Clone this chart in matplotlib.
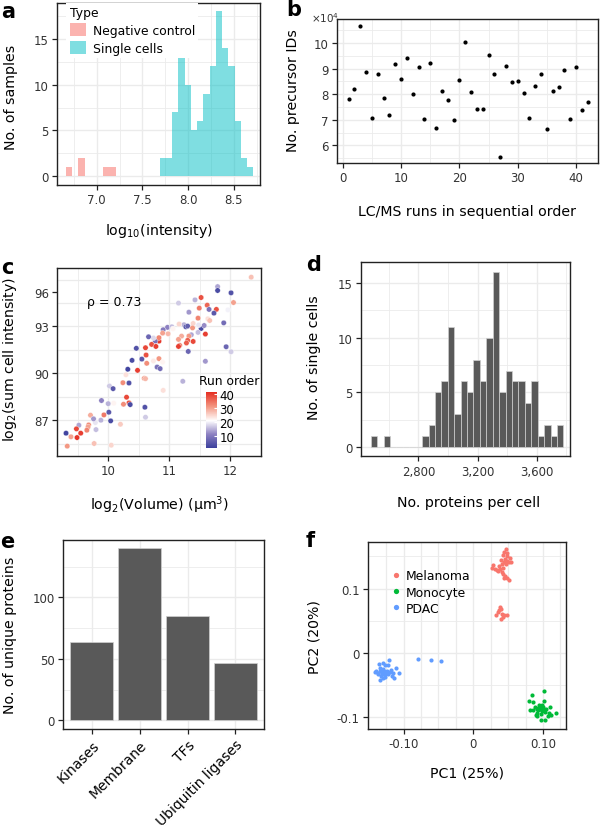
import numpy as np
import matplotlib
matplotlib.use('Agg')
import matplotlib.pyplot as plt
from matplotlib.colors import LinearSegmentedColormap, Normalize
from matplotlib.cm import ScalarMappable
from matplotlib.patches import Patch
from matplotlib.lines import Line2D

plt.rcParams['font.family'] = ['DejaVu Sans']
plt.rcParams['mathtext.fontset'] = 'dejavusans'

# ---------------- data ----------------
# (a) histogram of log10 intensity, 30 bins
int_bin_start = 6.664
int_bin_width = 0.0684
neg_control_counts = [1, 0, 2, 0, 0, 0, 1, 1, 0, 0, 0, 0, 0, 0, 0,
                      0, 0, 0, 0, 0, 0, 0, 0, 0, 0, 0, 0, 0, 0, 0]
single_cell_counts = [0, 0, 0, 0, 0, 0, 0, 0, 0, 0, 0, 0, 0, 0, 0,
                      2, 2, 7, 15, 10, 5, 6, 9, 12, 18, 14, 12, 6, 2, 1]

# (b) precursor IDs per LC/MS run
run_index = list(range(1, 43))
precursor_ids = [78000, 82100, 106800, 88800, 70800, 87900, 78600, 71900, 91800, 85800,
                 94000, 80100, 90500, 70300, 92200, 66600, 81200, 77900, 69900, 85500,
                 100300, 80800, 74200, 74300, 95400, 88000, 55600, 91100, 84800, 85100,
                 80500, 70600, 83200, 87800, 66300, 81200, 82800, 89600, 70400, 90500,
                 73800, 77100]

# (c) volume vs summed intensity, coloured by run order
vol_log2 = [12.34, 11.79, 11.79, 12.01, 11.52, 11.42, 11.15, 12.05, 11.49, 11.62,
            11.65, 11.77, 11.73, 11.32, 11.47, 11.63, 11.66, 11.96, 11.89, 11.24,
            11.39, 11.27, 11.30, 11.38, 11.52, 11.47, 11.59, 11.36, 11.32, 11.20,
            11.30, 11.15, 11.28, 11.17, 11.15, 11.31, 11.39, 10.97, 11.04, 10.90,
            10.89, 10.83, 10.77, 10.74, 10.83, 10.66, 10.71, 10.78, 10.46, 10.61,
            10.62, 10.55, 10.63, 10.39, 10.74, 10.83, 10.89, 10.80, 10.85, 10.32,
            10.48, 10.29, 10.59, 10.61, 10.24, 10.34, 10.02, 10.08, 10.30, 10.34,
            10.36, 10.25, 10.09, 10.00, 9.89, 10.60, 10.61, 9.93, 10.01, 10.04,
            10.20, 9.88, 9.79, 9.71, 9.76, 9.68, 9.67, 9.52, 9.48, 9.65,
            9.55, 9.49, 9.39, 9.31, 9.80, 9.33, 9.77, 10.05, 10.90, 11.22,
            11.93, 12.01, 11.59, 11.57, 11.48, 11.16, 11.06, 10.98]
int_log2 = [96.15, 95.55, 95.30, 95.15, 94.85, 94.70, 94.49, 94.53, 94.17, 94.36,
            94.09, 94.09, 93.85, 93.91, 93.53, 93.49, 93.38, 94.06, 93.23, 93.11,
            93.19, 92.98, 93.02, 92.91, 92.87, 92.62, 92.51, 92.47, 92.38, 92.38,
            92.11, 92.17, 91.94, 91.79, 91.72, 91.40, 92.04, 92.94, 92.98, 92.79,
            92.57, 92.06, 92.06, 92.26, 92.28, 92.34, 91.85, 91.72, 91.60, 91.64,
            91.17, 90.91, 90.64, 90.83, 90.79, 90.94, 90.72, 90.40, 90.30, 90.26,
            90.19, 89.91, 89.68, 89.66, 89.40, 89.38, 89.19, 89.02, 88.47, 88.11,
            88.00, 88.02, 88.09, 88.06, 88.26, 87.83, 87.19, 87.34, 87.51, 86.96,
            86.74, 87.00, 86.85, 87.32, 87.09, 86.70, 86.57, 86.68, 86.45, 86.36,
            86.17, 85.89, 85.94, 86.17, 86.40, 85.34, 85.51, 85.40, 88.91, 89.49,
            91.70, 91.38, 90.77, 93.06, 93.09, 93.15, 92.85, 92.53]
run_order = [27, 14, 3, 4, 38, 15, 17, 30, 34, 36,
             9, 38, 5, 13, 33, 24, 27, 20, 8, 15,
             25, 4, 6, 31, 3, 16, 40, 14, 31, 29,
             37, 30, 37, 33, 40, 7, 39, 11, 16, 10,
             30, 41, 9, 18, 33, 7, 38, 40, 4, 39,
             38, 5, 32, 3, 23, 31, 22, 9, 8, 2,
             40, 24, 31, 28, 32, 4, 17, 5, 39, 38,
             3, 32, 22, 15, 11, 4, 17, 34, 5, 3,
             26, 15, 19, 29, 13, 32, 30, 14, 39, 33,
             40, 41, 30, 2, 16, 31, 27, 25, 24, 15,
             7, 17, 13, 12, 19, 25, 22, 28]
c_ytick_pos = [87, 90, 93, 95.2]
c_ytick_lab = ['87', '90', '93', '96']
rho_label = 'ρ = 0.73'

# (d) proteins per cell histogram, 30 bins
prot_bin_start = 2478
prot_bin_width = 43.4
prot_counts = [1, 0, 1, 0, 0, 0, 0, 0, 1, 2, 5, 6, 11, 3, 6,
               5, 8, 6, 10, 16, 5, 7, 6, 6, 4, 6, 1, 2, 1, 2]

# (e) unique proteins per class
categories = ['Kinases', 'Membrane', 'TFs', 'Ubiquitin ligases']
unique_counts = [64, 140, 85, 47]

# (f) PCA
mel_pc1 = [0.0469, 0.0440, 0.0488, 0.0422, 0.0479, 0.0527, 0.0455, 0.0393, 0.0508, 0.0440,
           0.0412, 0.0373, 0.0287, 0.0264, 0.0311, 0.0336, 0.0383, 0.0431, 0.0359, 0.0407,
           0.0422, 0.0455, 0.0479, 0.0517, 0.0440, 0.0488, 0.0537, 0.0469,
           0.0383, 0.0393, 0.0359, 0.0326, 0.0407, 0.0440, 0.0393, 0.0373, 0.0422, 0.0479]
mel_pc2 = [0.161, 0.157, 0.155, 0.152, 0.150, 0.147, 0.146, 0.144, 0.142, 0.141,
           0.1375, 0.135, 0.136, 0.132, 0.131, 0.129, 0.130, 0.132, 0.127, 0.126,
           0.122, 0.120, 0.117, 0.114, 0.117, 0.143, 0.141, 0.1375,
           0.0714, 0.0677, 0.0635, 0.0594, 0.0609, 0.0583, 0.0531, 0.0661, 0.0552, 0.0594]
mono_pc1 = [0.084, 0.101, 0.080, 0.085, 0.102, 0.081, 0.089, 0.091, 0.093, 0.096,
            0.098, 0.100, 0.103, 0.092, 0.097, 0.090, 0.105, 0.108, 0.110, 0.112,
            0.119, 0.103, 0.097, 0.091, 0.086, 0.098, 0.094, 0.107,
            0.095, 0.099, 0.093, 0.101]
mono_pc2 = [-0.066, -0.059, -0.076, -0.077, -0.076, -0.089, -0.085, -0.0875, -0.090, -0.086,
            -0.089, -0.085, -0.092, -0.094, -0.095, -0.097, -0.0875, -0.094, -0.085, -0.097,
            -0.094, -0.105, -0.105, -0.099, -0.090, -0.081, -0.082, -0.098,
            -0.088, -0.091, -0.086, -0.089]
pdac_pc1 = [-0.135, -0.129, -0.127, -0.121, -0.122, -0.111, -0.107, -0.115, -0.116, -0.113,
            -0.120, -0.124, -0.129, -0.134, -0.139, -0.136, -0.131, -0.127, -0.132, -0.129,
            -0.134, -0.126, -0.122, -0.137, -0.131, -0.124, -0.118, -0.128, -0.134, -0.141,
            -0.079, -0.060, -0.046]
pdac_pc2 = [-0.018, -0.016, -0.019, -0.012, -0.020, -0.024, -0.032, -0.032, -0.037, -0.039,
            -0.030, -0.028, -0.026, -0.028, -0.029, -0.031, -0.030, -0.033, -0.036, -0.040,
            -0.042, -0.038, -0.034, -0.033, -0.034, -0.030, -0.027, -0.029, -0.024, -0.030,
            -0.0099, -0.011, -0.013]

# ---------------- style ----------------
W, H = 600, 829
fig = plt.figure(figsize=(6, 8.29), dpi=100)
TICK_FS = 8.5
LAB_FS = 10.2
GRID = '#EBEBEB'
BORDER = '#222222'


def add_ax(x0, y0, x1, y1):
    return fig.add_axes([x0 / W, 1 - y1 / H, (x1 - x0) / W, (y1 - y0) / H])


def style(ax, xgrid_minor=None, ygrid_minor=None):
    for s in ax.spines.values():
        s.set_color(BORDER)
        s.set_linewidth(1.0)
    ax.set_axisbelow(True)
    ax.grid(which='major', color=GRID, linewidth=1.0)
    if xgrid_minor is not None:
        ax.set_xticks(xgrid_minor, minor=True)
    if ygrid_minor is not None:
        ax.set_yticks(ygrid_minor, minor=True)
    ax.grid(which='minor', color=GRID, linewidth=0.6)
    ax.tick_params(which='major', length=3.5, width=0.9, color=BORDER,
                   labelsize=TICK_FS, labelcolor='#333333', pad=2.5)
    ax.tick_params(which='minor', length=0)


def labels(ax, xl, yl, xpos, ypos):
    if xl is not None:
        ax.set_xlabel(xl, fontsize=LAB_FS)
        ax.xaxis.set_label_coords(*xpos)
        ax.xaxis.label.set_va('center')
    if yl is not None:
        ax.set_ylabel(yl, fontsize=LAB_FS)
        ax.yaxis.set_label_coords(*ypos)
        ax.yaxis.label.set_va('center')


def panel_letter(ch, x, y):
    fig.text(x / W, 1 - y / H, ch, fontsize=15, fontweight='bold', va='baseline', ha='left')


# ---------------- (a) ----------------
ax = add_ax(57.3, 4, 260, 186)
nb = len(single_cell_counts)
edges_a = [int_bin_start + i * int_bin_width for i in range(nb)]
ax.bar(edges_a, neg_control_counts, width=int_bin_width, align='edge',
       color='#F8766D', alpha=0.55, linewidth=0)
ax.bar(edges_a, single_cell_counts, width=int_bin_width, align='edge',
       color='#00BFC4', alpha=0.5, linewidth=0)
ax.set_xlim(6.569, 8.788)
ax.set_ylim(-0.95, 18.9)
ax.set_xticks([7.0, 7.5, 8.0, 8.5])
ax.set_yticks([0, 5, 10, 15])
style(ax, [6.75, 7.25, 7.75, 8.25, 8.75], [2.5, 7.5, 12.5, 17.5])
labels(ax, 'log$_{10}$(intensity)', 'No. of samples', (0.5, -0.247), (-0.228, 0.489))
handles = [Patch(facecolor='#F8766D', alpha=0.55, linewidth=0),
           Patch(facecolor='#00BFC4', alpha=0.5, linewidth=0)]
leg = ax.legend(handles, ['Negative control', 'Single cells'], title='Type',
                loc='upper left', bbox_to_anchor=(0.045, 1.0), fontsize=8.9,
                title_fontsize=8.9, frameon=True, facecolor='white', edgecolor='none',
                framealpha=1, fancybox=False, borderpad=0.25, handlelength=1.3,
                handleheight=1.2, handletextpad=0.6, labelspacing=0.35, alignment='left',
                borderaxespad=0)
panel_letter('a', 1, 18.5)

# ---------------- (b) ----------------
ax = add_ax(337.3, 20, 597.7, 164)
ax.scatter(run_index, [v / 1e4 for v in precursor_ids], s=9, color='black', linewidths=0)
ax.set_xlim(-0.93, 43.7)
ax.set_ylim(5.31, 10.94)
ax.set_xticks([0, 10, 20, 30, 40])
ax.set_yticks([6, 7, 8, 9, 10])
style(ax, [5, 15, 25, 35], [5.5, 6.5, 7.5, 8.5, 9.5, 10.5])
labels(ax, 'LC/MS runs in sequential order', 'No. precursor IDs', (0.5, -0.333), (-0.171, 0.507))
fig.text(311 / W, 1 - 23 / H, '×10$^{4}$', fontsize=7.5, ha='left', va='baseline', color='#333333')
panel_letter('b', 286, 16.5)

# ---------------- (c) ----------------
ax = add_ax(57.3, 269.3, 261, 456.7)
cmap = LinearSegmentedColormap.from_list(
    'runorder', [(0.0, '#3A3F9C'), (0.25, '#8E82C2'), (0.488, '#FFFFFF'),
                 (0.74, '#F39580'), (1.0, '#E42B1F')])
norm = Normalize(vmin=1, vmax=42)
ax.scatter(vol_log2, int_log2, c=run_order, cmap=cmap, norm=norm, s=15,
           edgecolors='white', linewidths=0.25, zorder=3)
ax.set_xlim(9.167, 12.495)
ax.set_ylim(84.73, 96.72)
ax.set_xticks([10, 11, 12])
ax.set_yticks(c_ytick_pos)
ax.set_yticklabels(c_ytick_lab)
style(ax, [9.5, 10.5, 11.5, 12.5], [85.5, 87, 88.5, 90, 91.5, 93, 94.5, 96])
ax.yaxis.remove_overlapping_locs = False
ax.yaxis.grid(False, which='major')
ax.yaxis.grid(True, which='minor', color=GRID, linewidth=0.9)
labels(ax, 'log$_2$(Volume) (μm$^3$)', 'log$_2$(sum cell intensity)', (0.5, -0.258), (-0.23, 0.516))
ax.text(9.66, 94.6, rho_label, fontsize=9, ha='left', va='center')
cax = add_ax(206, 392.7, 216.7, 449.3)
cb = fig.colorbar(ScalarMappable(norm=norm, cmap=cmap), cax=cax, ticks=[10, 20, 30, 40])
cb.outline.set_visible(False)
cax.tick_params(direction='in', color='white', length=2.5, width=0.8, labelsize=TICK_FS, pad=2)
fig.text(199 / W, 1 - 385 / H, 'Run order', fontsize=8.9, ha='left', va='baseline')
panel_letter('c', 1, 273.5)

# ---------------- (d) ----------------
ax = add_ax(361, 263.3, 570, 457.3)
edges_d = [prot_bin_start + i * prot_bin_width for i in range(len(prot_counts))]
ax.bar(edges_d, prot_counts, width=prot_bin_width, align='edge', color='#595959',
       edgecolor='#D0D0D0', linewidth=0.5)
ax.set_xlim(2412, 3825)
ax.set_ylim(-0.85, 16.9)
ax.set_xticks([2800, 3200, 3600])
ax.set_xticklabels(['2,800', '3,200', '3,600'])
ax.set_yticks([0, 5, 10, 15])
style(ax, [2600, 3000, 3400, 3800], [2.5, 7.5, 12.5])
labels(ax, 'No. proteins per cell', 'No. of single cells', (0.517, -0.236), (-0.225, 0.512))
panel_letter('d', 306, 271)

# ---------------- (e) ----------------
ax = add_ax(63.3, 540.7, 264, 730)
xpos = list(range(1, len(categories) + 1))
ax.bar(xpos, unique_counts, width=0.9, color='#595959', edgecolor='#D0D0D0', linewidth=0.5)
ax.set_xlim(0.4, 4.6)
ax.set_ylim(-7, 147)
ax.set_xticks(xpos)
ax.set_xticklabels(categories, rotation=45, ha='right', rotation_mode='anchor')
ax.set_yticks([0, 50, 100])
style(ax, None, [25, 75, 125])
ax.tick_params(axis='x', labelsize=10, labelcolor='black')
labels(ax, None, 'No. of unique proteins', None, (-0.268, 0.502))
panel_letter('e', 0, 548)

# ---------------- (f) ----------------
ax = add_ax(368, 542.7, 566, 730)
ax.scatter(mel_pc1, mel_pc2, s=9, color='#F8766D', linewidths=0, label='Melanoma', zorder=3)
ax.scatter(mono_pc1, mono_pc2, s=9, color='#00BA38', linewidths=0, label='Monocyte', zorder=3)
ax.scatter(pdac_pc1, pdac_pc2, s=9, color='#619CFF', linewidths=0, label='PDAC', zorder=3)
ax.set_xlim(-0.151, 0.133)
ax.set_ylim(-0.119, 0.173)
ax.set_xticks([-0.1, 0, 0.1])
ax.set_xticklabels(['-0.10', '0', '0.10'])
ax.set_yticks([-0.1, 0, 0.1])
ax.set_yticklabels(['-0.1', '0', '0.1'])
style(ax, [-0.125, -0.075, -0.05, -0.025, 0.025, 0.05, 0.075, 0.125], [-0.05, 0.05, 0.15])
ax.xaxis.grid(True, which='minor', color=GRID, linewidth=0.9)
labels(ax, 'PC1 (25%)', 'PC2 (20%)', (0.501, -0.23), (-0.27, 0.497))
mh = [Line2D([], [], marker='o', linestyle='none', markersize=3.8, markerfacecolor=c,
             markeredgewidth=0) for c in ['#F8766D', '#00BA38', '#619CFF']]
ax.legend(mh, ['Melanoma', 'Monocyte', 'PDAC'], loc='upper left', bbox_to_anchor=(0.118, 0.852),
          fontsize=8.9, frameon=False, borderpad=0, handlelength=0.8, handletextpad=0.4,
          labelspacing=0.25, borderaxespad=0)
panel_letter('f', 306, 547)

fig.savefig('out.png', dpi=100)
